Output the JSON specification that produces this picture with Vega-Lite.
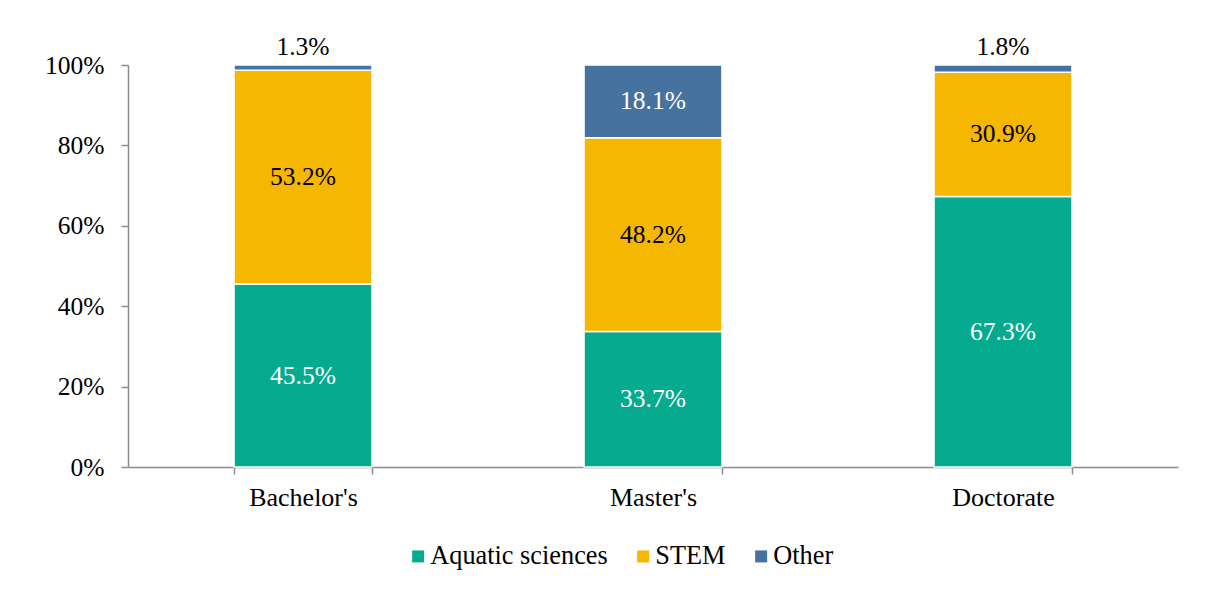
{
  "$schema": "https://vega.github.io/schema/vega-lite/v6.json",
  "autosize": {"type": "none"},
  "width": 1050,
  "height": 402,
  "padding": {"left": 128, "top": 65, "right": 40, "bottom": 122},
  "background": "white",
  "config": {
    "view": {"stroke": null},
    "font": "Liberation Serif",
    "axis": {
      "labelFont": "Liberation Serif",
      "labelFontSize": 25.5,
      "labelColor": "black",
      "domainColor": "#8c8c8c",
      "domainWidth": 1.5,
      "tickColor": "#8c8c8c",
      "tickWidth": 1.5,
      "tickSize": 7,
      "grid": false,
      "title": null
    },
    "legend": {
      "labelFont": "Liberation Serif",
      "labelFontSize": 26.3,
      "labelColor": "black",
      "labelLimit": 0
    }
  },
  "data": {
    "values": [
      {"degree": "Bachelor's", "field": "Aquatic sciences", "value": 45.5},
      {"degree": "Bachelor's", "field": "STEM", "value": 53.2},
      {"degree": "Bachelor's", "field": "Other", "value": 1.3},
      {"degree": "Master's", "field": "Aquatic sciences", "value": 33.7},
      {"degree": "Master's", "field": "STEM", "value": 48.2},
      {"degree": "Master's", "field": "Other", "value": 18.1},
      {"degree": "Doctorate", "field": "Aquatic sciences", "value": 67.3},
      {"degree": "Doctorate", "field": "STEM", "value": 30.9},
      {"degree": "Doctorate", "field": "Other", "value": 1.8}
    ]
  },
  "transform": [
    {"calculate": "indexof(['Aquatic sciences','STEM','Other'], datum.field)", "as": "k"},
    {"stack": "value", "groupby": ["degree"], "sort": [{"field": "k", "order": "ascending"}], "as": ["y0", "y1"]},
    {"calculate": "(datum.y0 + datum.y1) / 2", "as": "ymid"},
    {"calculate": "format(datum.value, '.1f') + '%'", "as": "lab"}
  ],
  "encoding": {
    "x": {
      "field": "degree",
      "type": "nominal",
      "sort": ["Bachelor's", "Master's", "Doctorate"],
      "scale": {"paddingInner": 0.606, "paddingOuter": 0.303},
      "axis": {"labelAngle": 0, "tickBand": "extent", "labelPadding": 10, "labelFontSize": 26}
    }
  },
  "layer": [
    {
      "mark": {"type": "bar", "stroke": "white", "strokeWidth": 1.5},
      "encoding": {
        "y": {
          "field": "y0",
          "type": "quantitative",
          "scale": {"domain": [0, 100], "nice": false},
          "axis": {"values": [0, 20, 40, 60, 80, 100], "labelExpr": "datum.value + '%'", "labelPadding": 17}
        },
        "y2": {"field": "y1"},
        "color": {
          "field": "field",
          "type": "nominal",
          "scale": {"domain": ["Aquatic sciences", "STEM", "Other"], "range": ["#06AB8F", "#F5B700", "#4672A0"]},
          "legend": {
            "title": null,
            "orient": "none",
            "direction": "horizontal",
            "legendX": 277,
            "legendY": 478,
            "symbolType": "square",
            "symbolSize": 144,
            "symbolStrokeWidth": 0,
            "labelOffset": -1,
            "columnPadding": 22
          }
        }
      }
    },
    {
      "transform": [{"filter": "datum.value >= 5"}],
      "mark": {"type": "text", "fontSize": 25.5, "font": "Liberation Serif", "baseline": "middle"},
      "encoding": {
        "y": {"field": "ymid", "type": "quantitative"},
        "text": {"field": "lab"},
        "color": {"condition": {"test": "datum.field === 'STEM'", "value": "black"}, "value": "white"}
      }
    },
    {
      "transform": [{"filter": "datum.value < 5"}],
      "mark": {"type": "text", "fontSize": 25.5, "font": "Liberation Serif", "baseline": "middle", "dy": -18, "color": "black"},
      "encoding": {
        "y": {"field": "y1", "type": "quantitative"},
        "text": {"field": "lab"}
      }
    }
  ]
}
